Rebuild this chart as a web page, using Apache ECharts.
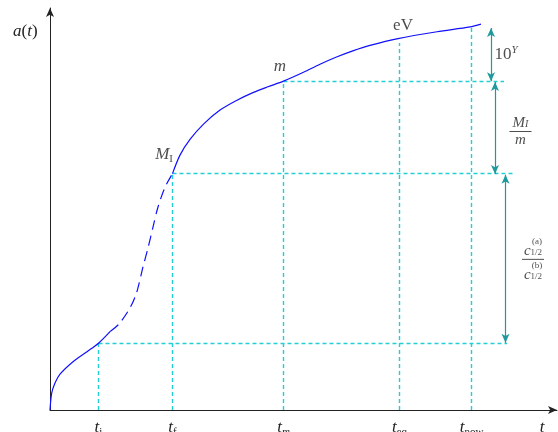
<!DOCTYPE html>
<html>
<head>
<meta charset="utf-8">
<script src="https://cdn.jsdelivr.net/npm/echarts@6/dist/echarts.min.js"></script>
<style>
  html, body { margin: 0; padding: 0; background: #fff; }
  #chart { width: 558px; height: 432px; }
</style>
</head>
<body>
<div id="chart"></div>
<script>
// scale factor a(t) sketch, arbitrary units
const radiationEra = [[0, 0], [0.34, 4.2], [1.0, 6.7], [2.0, 8.9], [4.6, 12.0], [7.4, 14.5], [9.7, 16.6], [12.1, 19.6]];
const transitionEra = [[12.1, 19.6], [13.8, 21.4], [16.0, 25.4], [17.3, 29.1], [18.6, 35.6], [19.6, 40.3], [20.6, 45.5], [21.6, 50.5], [23.0, 55.4], [24.5, 58.8]];
const lateEra = [[24.5, 58.8], [26.0, 63.4], [28.0, 67.3], [30.7, 71.1], [34.0, 74.6], [37.3, 77.0], [40.7, 79.0], [43.6, 80.4], [46.7, 81.8], [50.7, 84.0], [54.0, 86.0], [57.3, 87.8], [60.7, 89.4], [64.0, 90.7], [69.6, 92.4], [77.4, 94.1], [84.0, 95.3], [86.2, 96.0]];

// t_i, t_f, t_m, t_eq, t_now and where the axis name sits
const tMarks = [9.7, 24.5, 46.7, 69.9, 84.3];
const tAxisName = 98.4;
const tickLabels = ['{it|t}{sub|i}', '{it|t}{sub|f}', '{it|t}{subIt|m}', '{it|t}{sub|eq}', '{it|t}{sub|now}'];
// heights reached by the vertical guides
const guideTops = [16.54, 58.83, 81.72, 91.3, 95.3];
// a_i, a_f (M_I), a_m and where each horizontal guide stops
const aLevels = [16.54, 58.83, 81.72];
const hGuideEnds = [91.4, 93.0, 90.8];
// double arrows on the right: x position and [low, high]
const arrowT = [88.2, 89.0, 91.1];
const arrowSpans = [[81.8, 95.0], [58.7, 81.6], [16.7, 58.5]];

const FONT = "'Liberation Serif','DejaVu Serif',serif";
const INK = '#222';
const CYAN = '#22d0d4';
const TEAL = '#1e9a9c';
const BLUE = '#1010ff';

const base = { fontFamily: FONT, color: INK, fontWeight: 'normal' };
const rich = {
    it: Object.assign({ fontSize: 17, fontStyle: 'italic', lineHeight: 20 }, base),
    rm: Object.assign({ fontSize: 17, lineHeight: 20 }, base),
    sub: Object.assign({ fontSize: 11, verticalAlign: 'bottom', lineHeight: 12 }, base),
    subIt: Object.assign({ fontSize: 11, fontStyle: 'italic', verticalAlign: 'bottom', lineHeight: 12 }, base),
    supIt: Object.assign({ fontSize: 11, fontStyle: 'italic', verticalAlign: 'top', lineHeight: 12 }, base),
    fIt: Object.assign({ fontSize: 15, fontStyle: 'italic', lineHeight: 13 }, base),
    fSubIt: Object.assign({ fontSize: 10, fontStyle: 'italic', verticalAlign: 'bottom', lineHeight: 9 }, base),
    bar: { fontSize: 1, width: 22, height: 1, backgroundColor: INK, lineHeight: 4 },
    supS: Object.assign({ fontSize: 9, lineHeight: 8, padding: [0, 0, 0, 8] }, base),
    itC: Object.assign({ fontSize: 15, fontStyle: 'italic', lineHeight: 12 }, base),
    subC: Object.assign({ fontSize: 9, verticalAlign: 'bottom', lineHeight: 9 }, base)
};

const myChart = echarts.init(document.getElementById('chart'));

// dashed guides
let guides = [];
tMarks.forEach((t, i) => {
    guides.push([{ coord: [t, 0] }, { coord: [t, guideTops[i]] }]);
});
aLevels.forEach((a, i) => {
    guides.push([{ coord: [tMarks[i], a] }, { coord: [hGuideEnds[i], a] }]);
});
let arrows = arrowSpans.map((s, i) => [{ coord: [arrowT[i], s[0]] }, { coord: [arrowT[i], s[1]] }]);

const mid = (s) => (s[0] + s[1]) / 2;
let notes = [
    { value: [tMarks[1], aLevels[1]], label: { formatter: '{it|M}{sub|I}', position: [1, -18], align: 'right', verticalAlign: 'middle' } },
    { value: [tMarks[2], aLevels[2]], label: { formatter: '{it|m}', position: [-3, -14], align: 'center', verticalAlign: 'middle' } },
    { value: [tMarks[3], guideTops[3]], label: { formatter: '{rm|eV}', position: [4, -17], align: 'center', verticalAlign: 'middle' } },
    { value: [arrowT[0], mid(arrowSpans[0])], label: { formatter: '{rm|10}{supIt|Y}', position: [4, 0], align: 'left', verticalAlign: 'middle' } },
    { value: [arrowT[1], mid(arrowSpans[1])], label: { formatter: '{fIt|M}{fSubIt|I}\n{bar| }\n{fIt|m}', position: [26, 4], align: 'center', verticalAlign: 'middle' } },
    { value: [arrowT[2], mid(arrowSpans[2])], label: { formatter: '{supS|(a)}\n{itC|c}{subC|1/2}\n{bar| }\n{supS|(b)}\n{itC|c}{subC|1/2}', position: [28, 1], align: 'center', verticalAlign: 'middle' } }
];

const tickValues = tMarks.concat([tAxisName]);

let option = {
    animation: false,
    title: {
        text: '{it|a}{rm|(}{it|t}{rm|)}',
        left: 8,
        top: 17,
        textStyle: { fontWeight: 'normal', rich: rich }
    },
    grid: { left: 50, right: 1, top: 8, bottom: 22, outerBoundsMode: 'none', containLabel: false },
    xAxis: {
        type: 'value',
        min: 0,
        max: 101.4,
        splitLine: { show: false },
        axisTick: { show: false },
        axisLine: { lineStyle: { color: INK, width: 1 }, symbol: ['none', 'arrow'], symbolSize: [6, 9] },
        axisLabel: {
            customValues: tickValues,
            margin: 8,
            formatter: function (v) {
                let i = tMarks.indexOf(v);
                return i >= 0 ? tickLabels[i] : '{it|t}';
            },
            rich: rich
        }
    },
    yAxis: {
        type: 'value',
        min: 0,
        max: 100,
        splitLine: { show: false },
        axisTick: { show: false },
        axisLabel: { show: false },
        axisLine: { lineStyle: { color: INK, width: 1 }, symbol: ['none', 'arrow'], symbolSize: [6, 9] }
    },
    series: [
        {
            type: 'line',
            data: radiationEra,
            smooth: 0.3,
            symbol: 'none',
            lineStyle: { color: BLUE, width: 1.2 },
            z: 5,
            markLine: {
                silent: true,
                symbol: ['none', 'none'],
                label: { show: false },
                lineStyle: { color: CYAN, type: [4, 3], width: 1.4 },
                data: guides
            }
        },
        {
            type: 'line',
            data: transitionEra,
            smooth: 0.3,
            symbol: 'none',
            lineStyle: { color: BLUE, width: 1.2, type: [10, 6] },
            z: 5,
            markLine: {
                silent: true,
                symbol: ['arrow', 'arrow'],
                symbolSize: [6, 9],
                label: { show: false },
                lineStyle: { color: TEAL, type: 'solid', width: 1.2 },
                data: arrows
            }
        },
        {
            type: 'line',
            data: lateEra,
            smooth: 0.3,
            symbol: 'none',
            lineStyle: { color: BLUE, width: 1.2 },
            z: 5
        },
        {
            type: 'scatter',
            data: notes,
            symbolSize: 1,
            itemStyle: { color: 'transparent' },
            silent: true,
            label: { show: true, rich: rich }
        }
    ]
};
myChart.setOption(option);
</script>
</body>
</html>
